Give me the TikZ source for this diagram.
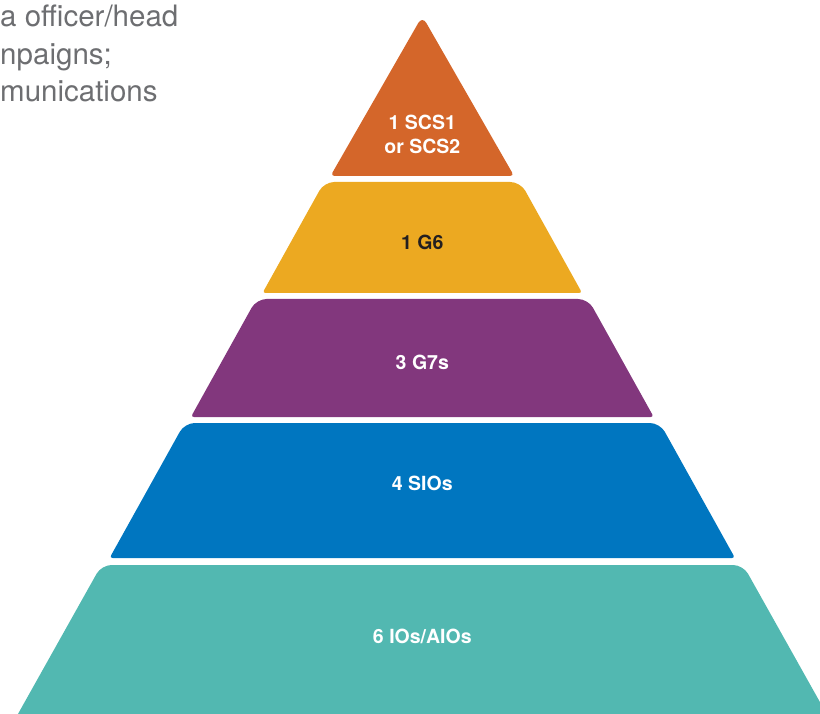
\documentclass[tikz,border=0pt]{standalone}
\usepackage{fontspec}
\setmainfont{TeX Gyre Heros}
\definecolor{cOrange}{HTML}{D4662A}
\definecolor{cYellow}{HTML}{ECA921}
\definecolor{cPurple}{HTML}{82377D}
\definecolor{cBlue}{HTML}{0076C0}
\definecolor{cTeal}{HTML}{52B8B1}
\definecolor{cGrey}{HTML}{6D6E71}
\definecolor{cDark}{HTML}{231F20}
\tikzset{
  lbl/.style={anchor=base, inner sep=0pt, font=\fontsize{19.5}{24}\selectfont\bfseries, text=white, align=center},
  side/.style={anchor=base west, inner sep=0pt, font=\fontsize{29.5}{35}\selectfont, text=cGrey}
}
\begin{document}
\begin{tikzpicture}[x=1pt,y=-1pt]
\useasboundingbox (0,0) rectangle (820,714);
\clip (0,0) rectangle (820,714);
% orange triangle
\fill[cOrange] (422.3,176) [rounded corners=4] -- (330.5,176) [rounded corners=8] -- (422.3,16) [rounded corners=4] -- (514.1,176) -- cycle;
% yellow
\fill[cYellow] (422.3,293) [rounded corners=3] -- (262.5,293) [rounded corners=10] -- (324.2,182) -- (520.4,182) [rounded corners=3] -- (582.1,293) -- cycle;
% purple
\fill[cPurple] (422.3,417) [rounded corners=3] -- (190.9,417) [rounded corners=10] -- (256.5,299) -- (588.1,299) [rounded corners=3] -- (653.7,417) -- cycle;
% blue
\fill[cBlue] (422.3,558) [rounded corners=3] -- (109.6,558) [rounded corners=10] -- (184.7,423) -- (659.9,423) [rounded corners=3] -- (735.0,558) -- cycle;
% teal
\fill[cTeal] (422.3,730) -- (9.0,730) [rounded corners=10] -- (101.5,565) -- (743.1,565) [sharp corners] -- (835.6,730) -- cycle;
% labels
\node[lbl] (l1) at (422.3,130) {1 SCS1};
\node[lbl] (l1b) at (422.3,154) {or SCS2};
\node[lbl, text=cDark] (l2) at (422.3,249.5) {1 G6};
\node[lbl] (l3) at (422.3,369.5) {3 G7s};
\node[lbl] (l4) at (422.3,490) {4 SIOs};
\node[lbl] (l5) at (422.3,643) {6 IOs/AIOs};
% side text
\node[side] (t1) at (0,26.7) {a officer/head};
\node[side] (t2) at (0,64.5) {npaigns;};
\node[side] (t3) at (0,101.7) {munications};
\end{tikzpicture}
\end{document}
